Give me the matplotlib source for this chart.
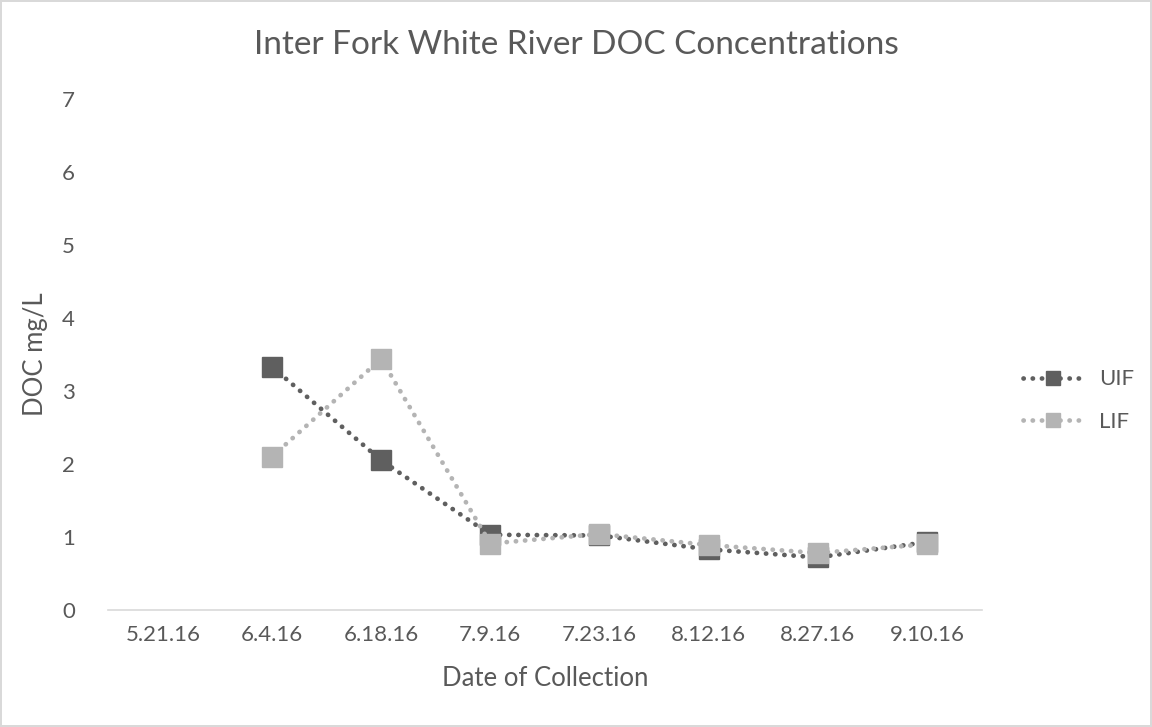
import numpy as np
import matplotlib
matplotlib.use("Agg")
import matplotlib.pyplot as plt

plt.rcParams["font.family"] = ["Lato", "DejaVu Sans"]

dates = ["5.21.16", "6.4.16", "6.18.16", "7.9.16", "7.23.16", "8.12.16", "8.27.16", "9.10.16"]
uif = [np.nan, 3.33, 2.05, 1.03, 1.02, 0.83, 0.72, 0.93]
lif = [np.nan, 2.10, 3.44, 0.91, 1.04, 0.89, 0.78, 0.90]

TEXT = "#595959"
UIF_COLOR = "#5f5f5f"
LIF_COLOR = "#b4b4b4"

fig = plt.figure(figsize=(11.52, 7.27), dpi=100)
fig.patch.set_edgecolor("#d9d9d9")
fig.patch.set_linewidth(1.5)
ax = fig.add_axes([0.094, 0.161, 0.758, 0.703])

x = np.arange(len(dates))
dots = (0, (0.05, 1.9))
for vals, col, name in [(uif, UIF_COLOR, "UIF"), (lif, LIF_COLOR, "LIF")]:
    ax.plot(x, vals, color=col, linewidth=3.4, linestyle=dots,
            dash_capstyle="round", marker="s", markersize=14.5,
            markerfacecolor=col, markeredgecolor=col, label=name)

ax.set_xlim(-0.5, len(dates) - 0.5)
ax.set_ylim(0, 7)
ax.set_yticks(range(0, 8))
ax.set_xticks(x)
ax.set_xticklabels(dates)
for s in ["top", "right", "left"]:
    ax.spines[s].set_visible(False)
ax.spines["bottom"].set_color("#d9d9d9")
ax.spines["bottom"].set_linewidth(1.2)
ax.tick_params(axis="both", length=0, colors=TEXT, labelsize=16)
ax.tick_params(axis="x", pad=11)
ax.tick_params(axis="y", pad=24)

ax.set_xlabel("Date of Collection", color=TEXT, fontsize=18.5, labelpad=15)
ax.set_ylabel("DOC mg/L", color=TEXT, fontsize=18.5, labelpad=10)
fig.text(0.5, 1 - 45 / 727, "Inter Fork White River DOC Concentrations",
         color=TEXT, fontsize=24, ha="center", va="center")

leg = ax.legend(loc="center left", bbox_to_anchor=(1.025, 0.41), frameon=False,
                fontsize=16, handlelength=2.7, handletextpad=0.7,
                labelspacing=1.0, markerscale=0.72)
for t in leg.get_texts():
    t.set_color(TEXT)

fig.savefig("out.png", dpi=100, edgecolor=fig.get_edgecolor())
